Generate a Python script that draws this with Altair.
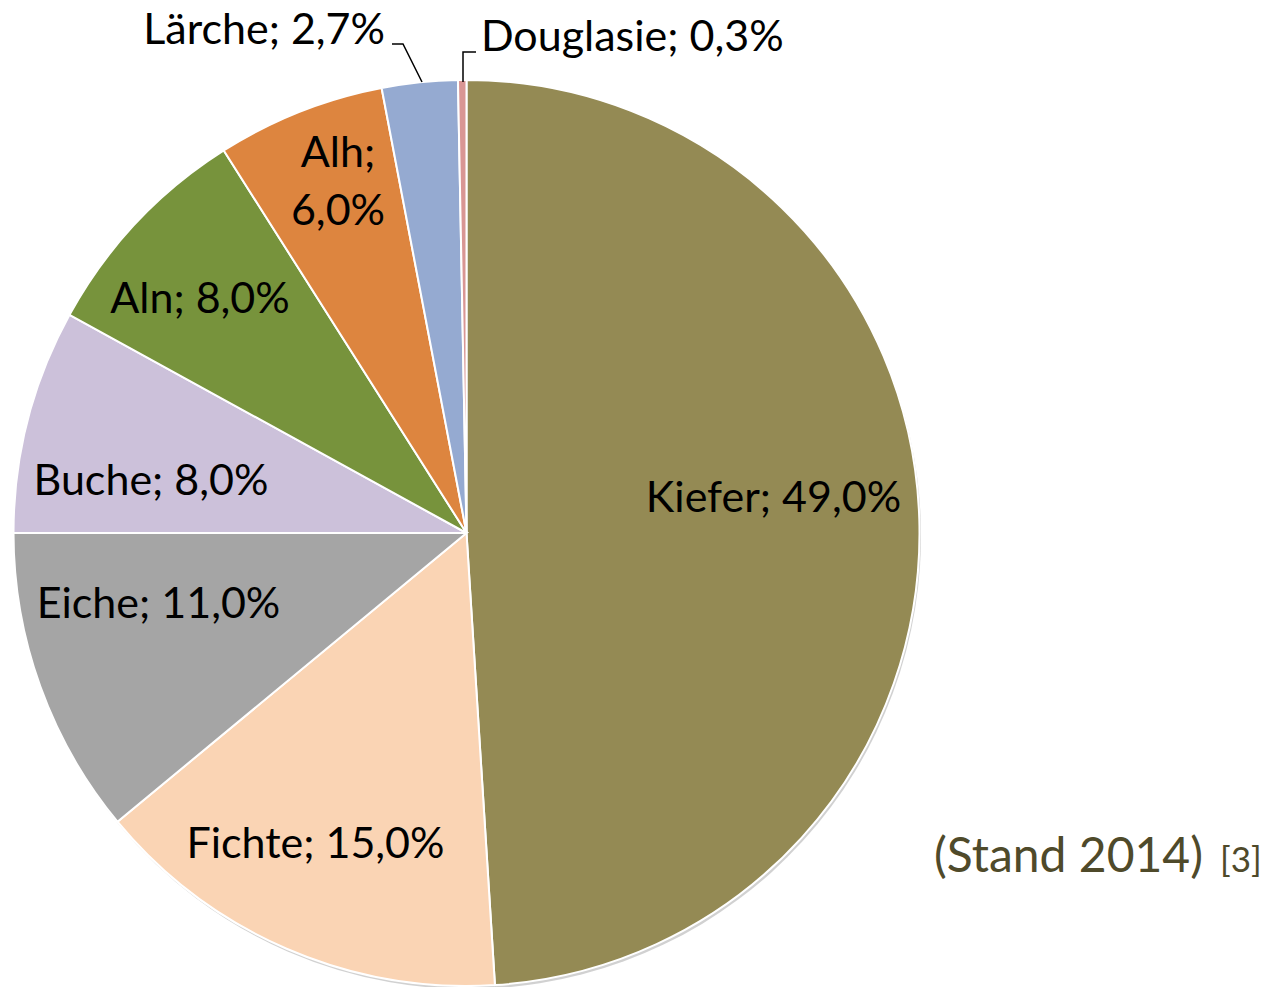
import math
import altair as alt
import pandas as pd

# ---- data ----
SPECIES = ["Kiefer", "Fichte", "Eiche", "Buche", "Aln", "Alh", "Lärche", "Douglasie"]
SHARES = [49.0, 15.0, 11.0, 8.0, 8.0, 6.0, 2.7, 0.3]
COLORS = ["#948A54", "#FAD4B4", "#A5A5A5", "#CCC1DA", "#77933C", "#DD853F", "#95AAD1", "#D99694"]
NOTE_MAIN = "(Stand 2014)"
NOTE_REF = "[3]"

# ---- layout (label placement, polar from pie centre) ----
CX, CY, R = 458.5, 525.0, 453
LABEL_ANGLE = [86.09, 204.92, 254.57, 276.87, 309.54, 340.65, 350.54, 1.72]
LABEL_RADIUS = [307.7, 358.4, 319.5, 317.8, 345.6, 387.9, 495.8, 482.2]
LABEL_ALIGN = ["center", "center", "center", "center", "center", "center", "right", "left"]
LABEL_SEP = [" ", " ", " ", " ", " ", "\n", " ", " "]
LEADERS = {
    "Lärche": [(384, 36), (395, 36), (414, 74)],
    "Douglasie": [(468, 44), (455, 44), (455, 74)],
}
FONT = "Lato"
FS = 43

def fmt(name, v, sep):
    return f"{name};{sep}{v:.1f}".replace(".", ",") + "%"

df = pd.DataFrame({
    "species": SPECIES,
    "share": SHARES,
    "idx": list(range(len(SPECIES))),
    "label": [fmt(n, v, s) for n, v, s in zip(SPECIES, SHARES, LABEL_SEP)],
    "lab_angle": LABEL_ANGLE,
    "lab_r": LABEL_RADIUS,
    "align": LABEL_ALIGN,
})

lead_rows = []
for name, pts in LEADERS.items():
    for i, (x, y) in enumerate(pts):
        lead_rows.append({"leader": name, "pt": i, "lx": x, "ly": y})
lead_df = pd.DataFrame(lead_rows)

base = alt.Chart(df)

shadow = base.mark_arc(radius=R, color="#9A9A9A", opacity=0.45).encode(
    theta=alt.Theta("share:Q", stack=True),
    order=alt.Order("idx:Q"),
    x=alt.value(CX + 1.5),
    y=alt.value(CY + 3),
)

arcs = base.mark_arc(radius=R, stroke="white", strokeWidth=2).encode(
    theta=alt.Theta("share:Q", stack=True),
    order=alt.Order("idx:Q"),
    color=alt.Color("species:N", scale=alt.Scale(domain=SPECIES, range=COLORS), legend=None),
    x=alt.value(CX),
    y=alt.value(CY),
)

def text_layer(al):
    return base.transform_filter(alt.datum.align == al).mark_text(
        font=FONT, fontSize=FS, color="black", align=al, baseline="alphabetic",
        lineBreak="\n", lineHeight=58,
    ).encode(
        text="label:N",
        theta=alt.Theta("lab_angle:Q", stack=False,
                        scale=alt.Scale(domain=[0, 360], range=[0, 2 * math.pi])),
        radius=alt.Radius("lab_r:Q", scale=None),
        x=alt.value(CX),
        y=alt.value(CY),
    )

leaders = alt.Chart(lead_df).mark_line(color="black", strokeWidth=1.5).encode(
    x=alt.X("lx:Q", scale=None, axis=None),
    y=alt.Y("ly:Q", scale=None, axis=None),
    detail="leader:N",
    order="pt:Q",
)

note1 = alt.Chart(pd.DataFrame({"t": [NOTE_MAIN]})).mark_text(
    font=FONT, fontSize=48, color="#4F4A2A", align="left", baseline="alphabetic"
).encode(text="t:N", x=alt.value(926), y=alt.value(864))
note2 = alt.Chart(pd.DataFrame({"t": [NOTE_REF]})).mark_text(
    font=FONT, fontSize=35, color="#4F4A2A", align="left", baseline="alphabetic"
).encode(text="t:N", x=alt.value(1212), y=alt.value(864))

chart = alt.layer(
    shadow, arcs, text_layer("center"), text_layer("right"), text_layer("left"),
    leaders, note1, note2,
).resolve_scale(theta="independent").properties(
    width=1256, height=979,
    autosize=alt.AutoSizeParams(type="none"),
    padding=0,
    background="white",
).configure_view(stroke=None)

chart.save("out.html", embed_options={"renderer": "svg", "actions": False})
